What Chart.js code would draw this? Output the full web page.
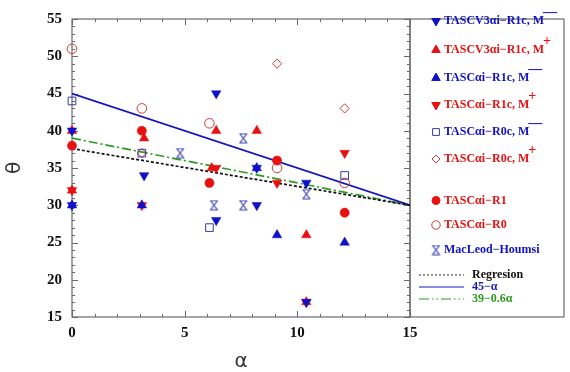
<!DOCTYPE html>
<html><head><meta charset="utf-8">
<script src="https://cdn.jsdelivr.net/npm/chart.js@4.4.0/dist/chart.umd.min.js"></script>
<style>html,body{margin:0;padding:0;background:#fff}#wrap{width:570px;height:372px}</style>
</head><body><div id="wrap"><canvas id="c" width="570" height="372"></canvas></div>
<script>
// ---- data ----
const xTickLabels = [0, 5, 10, 15];
const yTickLabels = [15, 20, 25, 30, 35, 40, 45, 50, 55];

const v3MinusX = [0, 0, 3.2, 6.4, 6.4, 8.2, 8.2, 10.4, 10.4];
const v3MinusY = [40, 30, 34, 45, 28, 30, 35, 33, 17];
const v3PlusX = [0, 0, 3.2, 6.4, 6.2, 8.2, 10.4, 10.4];
const v3PlusY = [40, 32, 39, 40, 35, 40, 26, 17];
const r1cMinusX = [0, 3.1, 8.2, 9.1, 12.1];
const r1cMinusY = [30, 30, 35, 26, 25];
const r1cPlusX = [0, 3.1, 6.4, 9.1, 12.1, 10.4];
const r1cPlusY = [32, 30, 35, 33, 37, 17];
const r0cMinusX = [0, 3.1, 6.1, 12.1];
const r0cMinusY = [44, 37, 27, 34];
const r0cPlusX = [9.1, 12.1, 3.1];
const r0cPlusY = [49, 43, 37];
const r1X = [0, 3.1, 6.1, 9.1, 12.1];
const r1Y = [38, 40, 33, 36, 29];
const r0X = [0, 3.1, 6.1, 9.1, 12.1];
const r0Y = [51, 43, 41, 35, 33];
const macX = [4.8, 7.6, 6.3, 7.6, 10.4];
const macY = [37, 39, 30, 30, 31.5];

const lineX = [0, 15];
const regY = [37.6, 30];
const l45Y = [45, 30];
const l39Y = [39, 30];

const legendLabels = ['TASCV3\u03b1i\u2212R1c, M', 'TASCV3\u03b1i\u2212R1c, M', 'TASC\u03b1i\u2212R1c, M', 'TASC\u03b1i\u2212R1c, M',
  'TASC\u03b1i\u2212R0c, M', 'TASC\u03b1i\u2212R0c, M', 'TASC\u03b1i\u2212R1', 'TASC\u03b1i\u2212R0', 'MacLeod\u2212Houmsi',
  'Regresion', '45\u2212\u03b1', '39\u22120.6\u03b1'];
const legendSup = ['\u2014', '+', '\u2014', '+', '\u2014', '+', '', '', '', '', '', ''];

// ---- styles ----
const BLUE = '#1010c8', RED = '#e81010', OPENBLUE = '#3a3aa0', OPENRED = '#cc3a3a', MACBLUE = '#3c44b0', GREEN = '#2e9a22';

function pts(xs, ys) { return xs.map((x, i) => ({x: x, y: ys[i]})); }

function hourglass(color) {
  const c = document.createElement('canvas');
  c.width = 11; c.height = 11;
  const g = c.getContext('2d');
  g.strokeStyle = color; g.lineWidth = 1.2;
  g.beginPath();
  g.moveTo(1.5, 1); g.lineTo(9.5, 1);
  g.moveTo(1.5, 10); g.lineTo(9.5, 10);
  g.moveTo(2, 1); g.lineTo(9, 10);
  g.moveTo(9, 1); g.lineTo(2, 10);
  g.stroke();
  return c;
}
const macImg = hourglass(MACBLUE);

const markerDefs = [
  {style: 'triangle', rot: 180, r: 5.5, fill: BLUE, border: BLUE},
  {style: 'triangle', rot: 0, r: 5.5, fill: RED, border: RED},
  {style: 'triangle', rot: 0, r: 5.5, fill: BLUE, border: BLUE},
  {style: 'triangle', rot: 180, r: 5.5, fill: RED, border: RED},
  {style: 'rect', rot: 0, r: 5.4, fill: 'rgba(0,0,0,0)', border: OPENBLUE},
  {style: 'rectRot', rot: 0, r: 4.6, fill: 'rgba(0,0,0,0)', border: OPENRED},
  {style: 'circle', rot: 0, r: 4.6, fill: RED, border: RED},
  {style: 'circle', rot: 0, r: 4.8, fill: 'rgba(0,0,0,0)', border: OPENRED},
  {style: macImg, rot: 0, r: 5, fill: MACBLUE, border: MACBLUE}
];
const seriesData = [
  pts(v3MinusX, v3MinusY), pts(v3PlusX, v3PlusY), pts(r1cMinusX, r1cMinusY), pts(r1cPlusX, r1cPlusY),
  pts(r0cMinusX, r0cMinusY), pts(r0cPlusX, r0cPlusY), pts(r1X, r1Y), pts(r0X, r0Y), pts(macX, macY)
];

const datasets = seriesData.map((d, i) => ({
  label: legendLabels[i],
  data: d,
  clip: false,
  pointStyle: markerDefs[i].style,
  rotation: markerDefs[i].rot,
  pointRadius: markerDefs[i].r,
  pointBackgroundColor: markerDefs[i].fill,
  pointBorderColor: markerDefs[i].border,
  pointBorderWidth: (i === 4 || i === 5 || i === 7) ? 1 : 0.5,
  showLine: false
}));
datasets.push({label: 'reg', data: pts(lineX, regY), showLine: true, pointRadius: 0, borderColor: '#111', borderWidth: 1.7, borderDash: [3, 2], fill: false});
datasets.push({label: 'l45', data: pts(lineX, l45Y), showLine: true, pointRadius: 0, borderColor: '#1515bb', borderWidth: 1.8, fill: false});
datasets.push({label: 'l39', data: pts(lineX, l39Y), showLine: true, pointRadius: 0, borderColor: GREEN, borderWidth: 1.7, borderDash: [9, 3, 2, 3], fill: false});

const FRAME = '#6a6a6a';

const framePlugin = {
  id: 'frameTicks',
  beforeDatasetsDraw(chart) {
    const ctx = chart.ctx, a = chart.chartArea, xs = chart.scales.x, ys = chart.scales.y;
    ctx.save();
    ctx.strokeStyle = FRAME; ctx.lineWidth = 1.2;
    ctx.strokeRect(a.left, a.top, a.right - a.left, a.bottom - a.top);
    const lbRight = 564;
    ctx.strokeRect(a.right, a.top, lbRight - a.right, a.bottom - a.top);
    ctx.lineWidth = 1;
    ctx.beginPath();
    for (let v = ys.min; v <= ys.max; v++) {
      const p = Math.round(ys.getPixelForValue(v)) + 0.5;
      const len = v % 5 === 0 ? 6 : 3;
      ctx.moveTo(a.left, p); ctx.lineTo(a.left + len, p);
      ctx.moveTo(a.right, p); ctx.lineTo(a.right - len, p);
    }
    for (let v = xs.min; v <= xs.max; v++) {
      const p = Math.round(xs.getPixelForValue(v)) + 0.5;
      const len = v % 5 === 0 ? 6 : 3;
      ctx.moveTo(p, a.bottom); ctx.lineTo(p, a.bottom - len);
      ctx.moveTo(p, a.top); ctx.lineTo(p, a.top + len);
    }
    ctx.stroke();
    ctx.restore();
  },
  afterDraw(chart) {
    const ctx = chart.ctx;
    ctx.save();
    const entryY = [21, 50, 78, 105, 132, 159, 200.5, 225, 250, 275, 287, 299];
    const textColors = [BLUE, RED, BLUE, RED, BLUE, RED, RED, RED, BLUE, '#111', '#1a1ac0', GREEN];
    const mx = 436, tx = 444;
    ctx.textBaseline = 'middle';
    ctx.textAlign = 'left';
    for (let i = 0; i < 12; i++) {
      const y = entryY[i];
      ctx.font = 'bold 12px "Liberation Serif"';
      if (i < 9) {
        const m = markerDefs[i];
        if (i === 8) {
          ctx.drawImage(macImg, mx - 5.5, y - 5.5);
        } else {
          ctx.fillStyle = m.fill; ctx.strokeStyle = m.border; ctx.lineWidth = 1;
          Chart.helpers.drawPoint(ctx, {pointStyle: m.style, rotation: m.rot, radius: m.r - 0.6, borderWidth: 1}, mx, y);
        }
        ctx.fillStyle = textColors[i];
        ctx.fillText(legendLabels[i], tx, y);
        if (legendSup[i]) {
          const w = ctx.measureText(legendLabels[i]).width;
          ctx.font = 'bold 14px "Liberation Serif"';
          ctx.fillText(legendSup[i], tx + w - 1, y - 9);
        }
      } else {
        ctx.save();
        ctx.lineWidth = 1;
        if (i === 9) { ctx.strokeStyle = '#222'; ctx.setLineDash([2, 2]); }
        if (i === 10) { ctx.strokeStyle = '#1a1ac0'; ctx.setLineDash([]); }
        if (i === 11) { ctx.strokeStyle = GREEN; ctx.setLineDash([10, 3, 1.5, 3, 1.5, 3]); }
        ctx.beginPath(); ctx.moveTo(419, y); ctx.lineTo(464, y); ctx.stroke();
        ctx.restore();
        ctx.fillStyle = textColors[i];
        ctx.fillText(legendLabels[i], 472, y);
      }
    }
    ctx.restore();
  }
};

new Chart(document.getElementById('c'), {
  type: 'scatter',
  data: {datasets: datasets},
  options: {
    responsive: false,
    animation: false,
    devicePixelRatio: 1,
    layout: {padding: {left: 0, right: 160, top: 10, bottom: 0}},
    plugins: {legend: {display: false}, tooltip: {enabled: false}},
    scales: {
      x: {
        type: 'linear', min: 0, max: 15,
        afterFit(s) { s.height = 55; },
        afterBuildTicks(s) { s.ticks = xTickLabels.map(v => ({value: v})); },
        grid: {display: false, drawTicks: false},
        border: {display: false},
        ticks: {padding: 7, color: '#111', font: {family: 'Liberation Serif', weight: 'bold', size: 15}, maxRotation: 0},
        title: {display: true, text: '\u03b1', color: '#333', font: {family: 'DejaVu Sans', size: 20, lineHeight: 1}, padding: {top: 0, bottom: 0}}
      },
      y: {
        type: 'linear', min: 15, max: 55,
        afterFit(s) { s.width = 72; },
        afterBuildTicks(s) { s.ticks = yTickLabels.map(v => ({value: v})); },
        grid: {display: false, drawTicks: false},
        border: {display: false},
        ticks: {padding: 10, color: '#111', font: {family: 'Liberation Serif', weight: 'bold', size: 15}},
        title: {display: true, text: '\u03b8', color: '#333', font: {family: 'DejaVu Sans', size: 20, lineHeight: 1}, padding: {top: 5, bottom: 0}}
      }
    }
  },
  plugins: [framePlugin]
});
</script>
</body></html>
